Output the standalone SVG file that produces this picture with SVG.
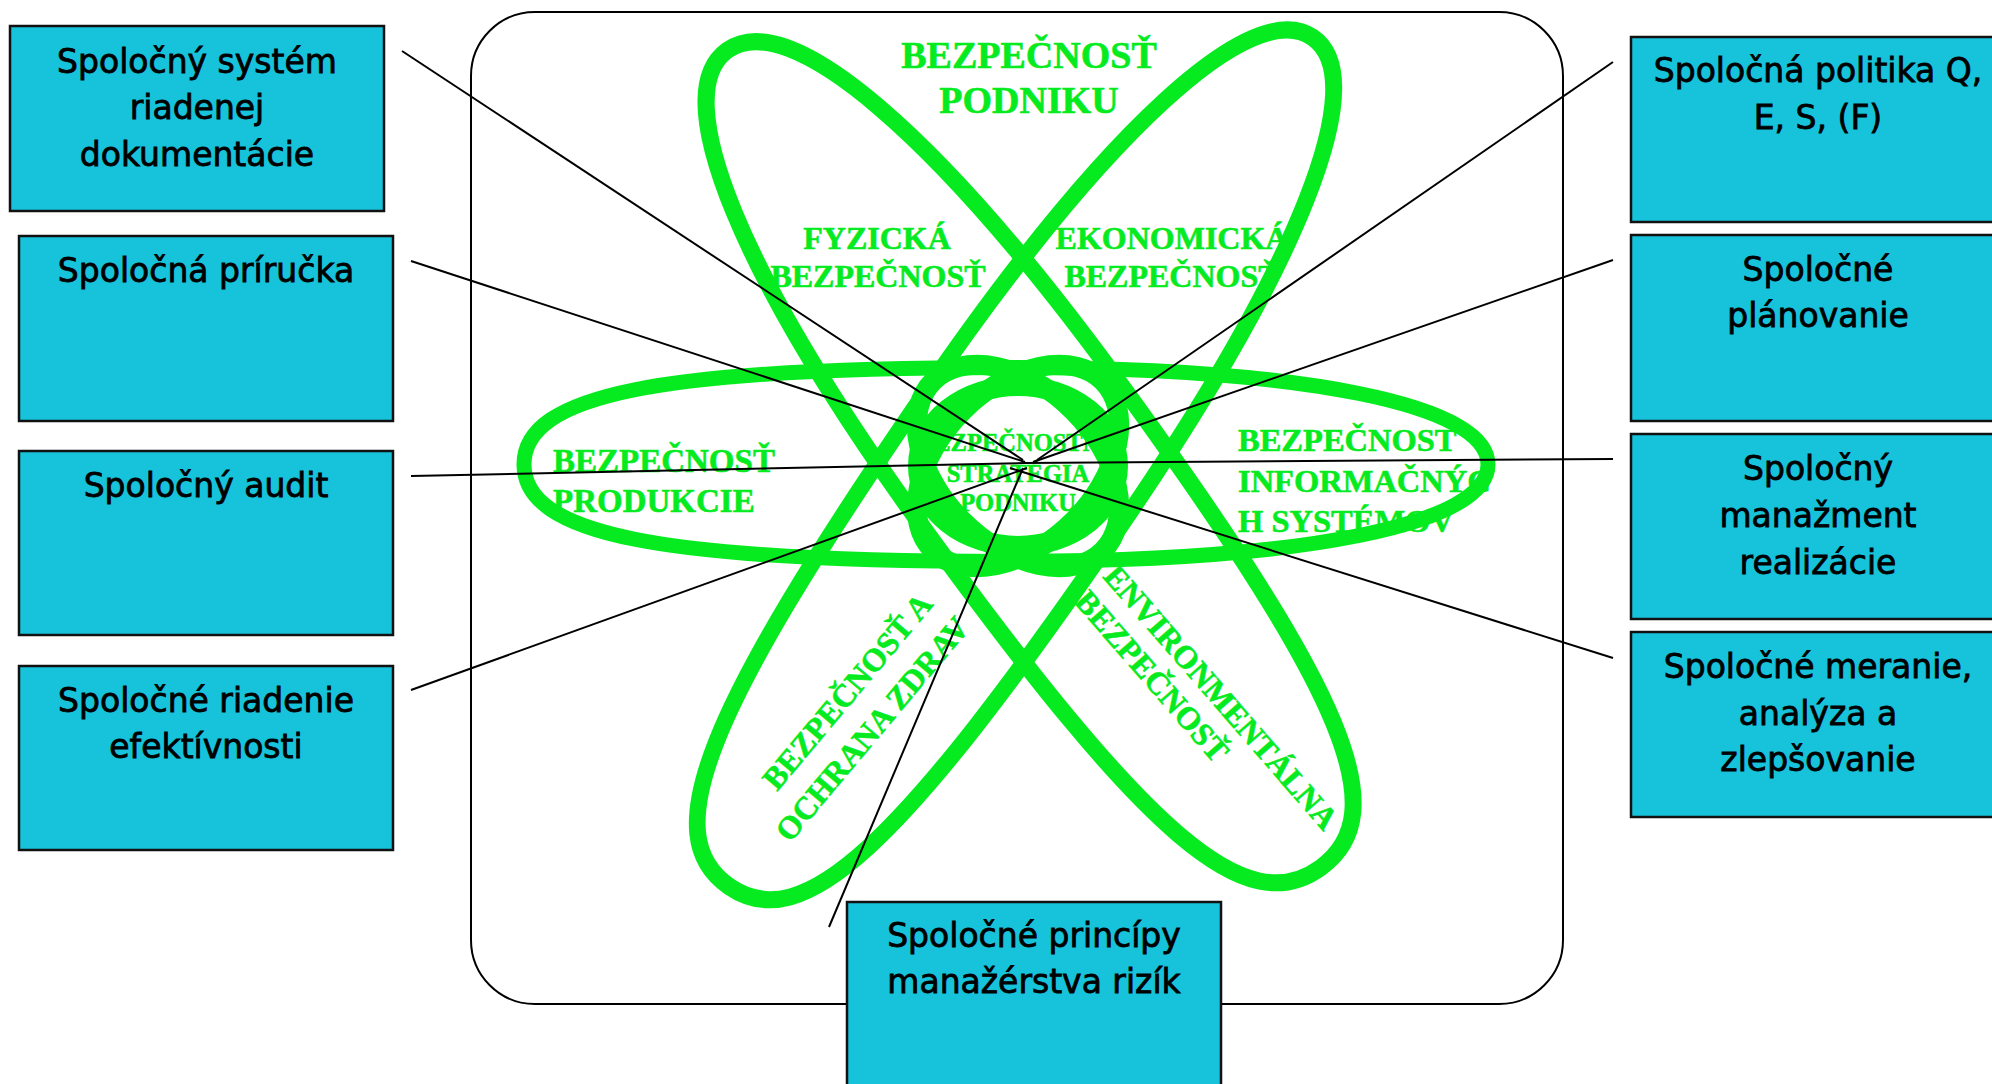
<svg xmlns="http://www.w3.org/2000/svg" xmlns:xlink="http://www.w3.org/1999/xlink" width="1992" height="1084" viewBox="0 0 1992 1084">
  <style>
    .frame { fill: none; stroke: #000; stroke-width: 2; }
    .orbit { fill: none; stroke: #06EB1F; stroke-width: 17; }
    .orbit-h { fill: none; stroke: #06EB1F; stroke-width: 15; }
    .core { fill: none; stroke: #06EB1F; stroke-width: 20; }
    .lbl { font-family: "Liberation Serif", "Times New Roman", serif; font-weight: bold; fill: #06EB1F; stroke: #06EB1F; stroke-width: 0.6; }
    .link { stroke: #000; stroke-width: 2; fill: none; }
    .box rect { fill: #16C3DB; stroke: #111; stroke-width: 2.5; }
    .box text { font-family: "DejaVu Sans", Verdana, sans-serif; font-size: 33px; fill: #000; stroke: #000; stroke-width: 0.8; text-anchor: middle; }
  </style>
  <defs>
    <!-- elongated loop: narrower upper end, fuller lower end -->
    <path id="loop" d="M505 0 C505 92 380 122 0 122 C-313 122 -505 76 -505 0 C-505 -76 -313 -122 0 -122 C380 -122 505 -92 505 0 Z"/>
    <!-- wide horizontal loop -->
    <path id="loopH" d="M482 0 C482 60 299 97 0 97 C-347 97 -482 70 -482 0 C-482 -70 -347 -97 0 -97 C299 -97 482 -60 482 0 Z"/>
  </defs>

  <rect x="0" y="0" width="1992" height="1084" fill="#fff"/>

  <!-- outer frame -->
  <rect id="frame" class="frame" x="471" y="12" width="1092" height="992" rx="64" ry="64"/>

  <!-- security domains -->
  <g id="domains">
    <use xlink:href="#loopH" href="#loopH" class="orbit-h" transform="translate(1006,464.5)"/>
    <use xlink:href="#loop" href="#loop" class="orbit" transform="translate(1024,459) rotate(54)"/>
    <use xlink:href="#loop" href="#loop" class="orbit" transform="translate(1021,462) scale(-1,1) rotate(55.5) scale(1.02,0.97)"/>
  </g>

  <!-- central rosette -->
  <g id="core">
    <ellipse class="core" cx="1018" cy="466" rx="100" ry="80"/>
    <ellipse class="core" cx="1018" cy="466" rx="120" ry="78" transform="rotate(45 1018 466)"/>
    <ellipse class="core" cx="1018" cy="466" rx="120" ry="78" transform="rotate(-45 1018 466)"/>
  </g>

  <!-- domain labels -->
  <g id="labels">
    <text class="lbl" font-size="38" text-anchor="middle" x="1029" y="68">BEZPEČNOSŤ</text>
    <text class="lbl" font-size="38" text-anchor="middle" x="1029" y="113">PODNIKU</text>

    <text class="lbl" font-size="32" text-anchor="middle" x="877" y="249">FYZICKÁ</text>
    <text class="lbl" font-size="32" text-anchor="middle" x="878" y="287">BEZPEČNOSŤ</text>

    <text class="lbl" font-size="32" text-anchor="middle" x="1172" y="249">EKONOMICKÁ</text>
    <text class="lbl" font-size="32" text-anchor="middle" x="1172" y="287">BEZPEČNOSŤ</text>

    <text class="lbl" font-size="33" x="553" y="472">BEZPEČNOSŤ</text>
    <text class="lbl" font-size="33" x="553" y="512">PRODUKCIE</text>

    <text class="lbl" font-size="32.5" x="1238" y="451">BEZPEČNOST</text>
    <text class="lbl" font-size="32.5" x="1238" y="492">INFORMAČNÝC</text>
    <text class="lbl" font-size="32.5" x="1238" y="532">H SYSTÉMOV</text>

    <text class="lbl" font-size="24.5" text-anchor="middle" x="1018" y="451">BEZPEČNOSTNÁ</text>
    <text class="lbl" font-size="24.5" text-anchor="middle" x="1018" y="482">STRATÉGIA</text>
    <text class="lbl" font-size="24.5" text-anchor="middle" x="1018" y="511">PODNIKU</text>

    <g transform="translate(777,792) rotate(-50)">
      <text class="lbl" font-size="32" x="0" y="0">BEZPEČNOSŤ A</text>
      <text class="lbl" font-size="32" x="-31" y="43">OCHRANA ZDRAV</text>
    </g>

    <g transform="translate(1102,577) rotate(49)">
      <text class="lbl" font-size="32" x="0" y="0">ENVIRONMENTÁLNA</text>
      <text class="lbl" font-size="32" x="0" y="38">BEZPEČNOSŤ</text>
    </g>
  </g>

  <!-- connectors to the centre -->
  <g id="connectors">
    <line class="link" x1="402" y1="51" x2="1023" y2="460"/>
    <line class="link" x1="411" y1="261" x2="1025" y2="462"/>
    <line class="link" x1="411" y1="476" x2="1025" y2="463"/>
    <line class="link" x1="411" y1="690" x2="1027" y2="468"/>
    <line class="link" x1="1613" y1="62" x2="1037" y2="460"/>
    <line class="link" x1="1613" y1="260" x2="1033" y2="462"/>
    <line class="link" x1="1613" y1="459" x2="1025" y2="463"/>
    <line class="link" x1="1613" y1="658" x2="1010" y2="468"/>
    <line class="link" x1="829" y1="927" x2="1023" y2="468"/>
  </g>

  <!-- common system elements -->
  <g id="box-dokumentacia" class="box">
    <rect x="10" y="26" width="374" height="185"/>
    <text x="197" y="73">Spoločný systém</text>
    <text x="197" y="119">riadenej</text>
    <text x="197" y="166">dokumentácie</text>
  </g>
  <g id="box-prirucka" class="box">
    <rect x="19" y="236" width="374" height="185"/>
    <text x="206" y="282">Spoločná príručka</text>
  </g>
  <g id="box-audit" class="box">
    <rect x="19" y="451" width="374" height="184"/>
    <text x="206" y="497">Spoločný audit</text>
  </g>
  <g id="box-efektivnost" class="box">
    <rect x="19" y="666" width="374" height="184"/>
    <text x="206" y="712">Spoločné riadenie</text>
    <text x="206" y="758">efektívnosti</text>
  </g>
  <g id="box-politika" class="box">
    <rect x="1631" y="37" width="374" height="185"/>
    <text x="1818" y="82">Spoločná politika Q,</text>
    <text x="1818" y="129">E, S, (F)</text>
  </g>
  <g id="box-planovanie" class="box">
    <rect x="1631" y="235" width="374" height="186"/>
    <text x="1818" y="281">Spoločné</text>
    <text x="1818" y="327">plánovanie</text>
  </g>
  <g id="box-realizacia" class="box">
    <rect x="1631" y="434" width="374" height="185"/>
    <text x="1818" y="480">Spoločný</text>
    <text x="1818" y="527">manažment</text>
    <text x="1818" y="574">realizácie</text>
  </g>
  <g id="box-meranie" class="box">
    <rect x="1631" y="632" width="374" height="185"/>
    <text x="1818" y="678">Spoločné meranie,</text>
    <text x="1818" y="725">analýza a</text>
    <text x="1818" y="771">zlepšovanie</text>
  </g>
  <g id="box-rizika" class="box">
    <rect x="847" y="902" width="374" height="186"/>
    <text x="1034" y="947">Spoločné princípy</text>
    <text x="1034" y="993">manažérstva rizík</text>
  </g>
</svg>
